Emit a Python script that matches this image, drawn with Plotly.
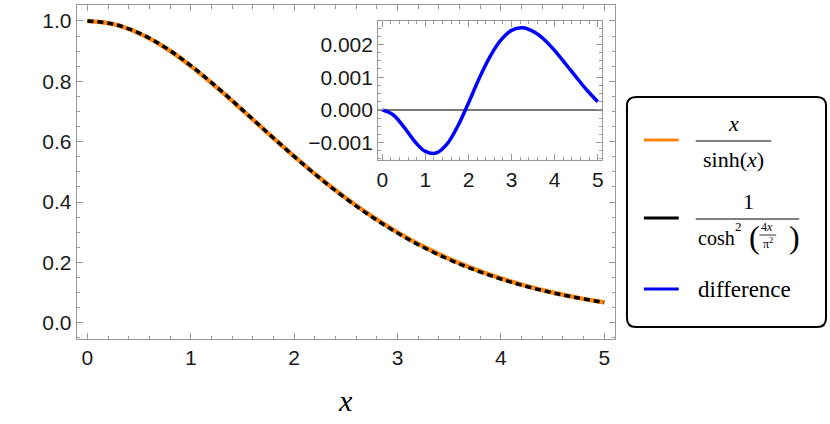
import plotly.graph_objects as go

# values
x_vals = [0.0, 0.25, 0.5, 0.75, 1.0, 1.25, 1.5, 1.75, 2.0, 2.25, 2.5,
          2.75, 3.0, 3.25, 3.5, 3.75, 4.0, 4.25, 4.5, 4.75, 5.0]
sinh_ratio = [1.0, 0.98966, 0.95952, 0.91208, 0.85092, 0.78031, 0.70446, 0.62715,
              0.55144, 0.47963, 0.41321, 0.35305, 0.29947, 0.25241, 0.21158,
              0.17648, 0.14657, 0.12127, 0.09999, 0.08220, 0.06738]
cosh_approx = [1.0, 0.98981, 0.96004, 0.91304, 0.85219, 0.78163, 0.70552, 0.62765,
               0.55123, 0.47866, 0.41158, 0.35091, 0.29704, 0.24991, 0.20917,
               0.17433, 0.14477, 0.11986, 0.09899, 0.08159, 0.06714]
difference = [0.0, -0.00015, -0.00052, -0.00096, -0.00127, -0.00132, -0.00105,
              -0.00050, 0.00021, 0.00097, 0.00163, 0.00213, 0.00243, 0.00251,
              0.00240, 0.00216, 0.00181, 0.00141, 0.00100, 0.00060, 0.00025]
main_yticks = [0.0, 0.2, 0.4, 0.6, 0.8, 1.0]
inset_yticks = [-0.001, 0.0, 0.001, 0.002]

W, H = 830, 424
ORANGE = "rgb(255,133,15)"
FRAME = "#999999"
TICKFONT = dict(family="Liberation Sans", size=21, color="#1a1a1a")
SERIF = "Liberation Serif"


def px(x):
    return x / W


def py(y):
    return 1 - y / H


fig = go.Figure()
fig.add_trace(go.Scatter(x=x_vals, y=sinh_ratio, mode="lines", line_shape="spline",
                         line=dict(color=ORANGE, width=4.5)))
fig.add_trace(go.Scatter(x=x_vals, y=cosh_approx, mode="lines", line_shape="spline",
                         line=dict(color="black", width=3.5, dash="6px,4px")))
fig.add_trace(go.Scatter(x=x_vals, y=difference, mode="lines", line_shape="spline",
                         line=dict(color="blue", width=3.5), xaxis="x2", yaxis="y2"))

axis_common = dict(showline=True, linecolor=FRAME, linewidth=1, mirror="allticks",
                   ticks="inside", tickcolor=FRAME, ticklen=6, showgrid=False,
                   tickfont=TICKFONT, zeroline=False)

fig.update_layout(
    width=W, height=H, showlegend=False,
    margin=dict(l=0, r=0, t=0, b=0),
    paper_bgcolor="white", plot_bgcolor="white",
    xaxis=dict(axis_common, domain=[px(75), px(616)], range=[-0.104, 5.104],
               dtick=1, tick0=0,
               minor=dict(dtick=0.2, tick0=0, ticks="inside", ticklen=3.5, tickcolor=FRAME)),
    yaxis=dict(axis_common, domain=[py(339), py(5)], range=[-0.054, 1.053],
               tickvals=main_yticks, tickformat=".1f",
               minor=dict(dtick=0.05, tick0=0, ticks="inside", ticklen=3.5, tickcolor=FRAME)),
    xaxis2=dict(axis_common, domain=[px(378), px(603)], range=[-0.095, 5.1],
                dtick=1, tick0=0, anchor="y2",
                minor=dict(dtick=0.2, tick0=0, ticks="inside", ticklen=3, tickcolor=FRAME)),
    yaxis2=dict(axis_common, domain=[py(160.3), py(21.3)], range=[-0.001542, 0.002708],
                tickvals=inset_yticks, tickformat=".3f", anchor="x2",
                zeroline=True, zerolinecolor="#777777", zerolinewidth=1.5,
                minor=dict(dtick=0.00025, tick0=0, ticks="inside", ticklen=3, tickcolor=FRAME)),
)

# x axis label
fig.add_annotation(x=px(345), y=py(400), xref="paper", yref="paper", showarrow=False,
                   text="<i>x</i>", yanchor="middle",
                   font=dict(family=SERIF, size=30, color="black"))

# legend box with rounded corners
x0, y0, x1, y1, r = 628, 97, 828, 327, 9
path = (f"M {px(x0 + r)},{py(y0)} L {px(x1 - r)},{py(y0)} "
        f"Q {px(x1)},{py(y0)} {px(x1)},{py(y0 + r)} L {px(x1)},{py(y1 - r)} "
        f"Q {px(x1)},{py(y1)} {px(x1 - r)},{py(y1)} L {px(x0 + r)},{py(y1)} "
        f"Q {px(x0)},{py(y1)} {px(x0)},{py(y1 - r)} L {px(x0)},{py(y0 + r)} "
        f"Q {px(x0)},{py(y0)} {px(x0 + r)},{py(y0)} Z")
fig.add_shape(type="path", path=path, xref="paper", yref="paper",
              line=dict(color="black", width=2), fillcolor="white")

for yy, col in [(140, ORANGE), (218, "black"), (289, "blue")]:
    fig.add_shape(type="line", xref="paper", yref="paper", x0=px(645), x1=px(680),
                  y0=py(yy), y1=py(yy), line=dict(color=col, width=3))

# fraction bars
for xa, xb, yy, w in [(697, 773, 141, 1), (697, 801, 219, 1), (761, 778, 235, 0.8)]:
    fig.add_shape(type="line", xref="paper", yref="paper", x0=px(xa), x1=px(xb),
                  y0=py(yy), y1=py(yy), line=dict(color="black", width=w))


def label(x, y, text, size=22, xanchor="center"):
    fig.add_annotation(x=px(x), y=py(y), xref="paper", yref="paper", showarrow=False,
                       text=text, xanchor=xanchor, yanchor="middle",
                       font=dict(family=SERIF, size=size, color="black"))


label(735, 123, "<i>x</i>")
label(735, 159, "sinh(<i>x</i>)")
label(750, 202, "1")
label(697, 238, "cosh", size=20, xanchor="left")
label(740, 226, "2", size=13)
label(756, 237, "(", size=32)
label(769, 227, "4<i>x</i>", size=12)
label(770, 243.5, "π<sup>2</sup>", size=12)
label(796, 237, ")", size=32)
label(697, 289, "difference", size=23, xanchor="left")

fig.write_html("out.html", config={"displayModeBar": False},
               post_script="document.body.style.margin='0';")
